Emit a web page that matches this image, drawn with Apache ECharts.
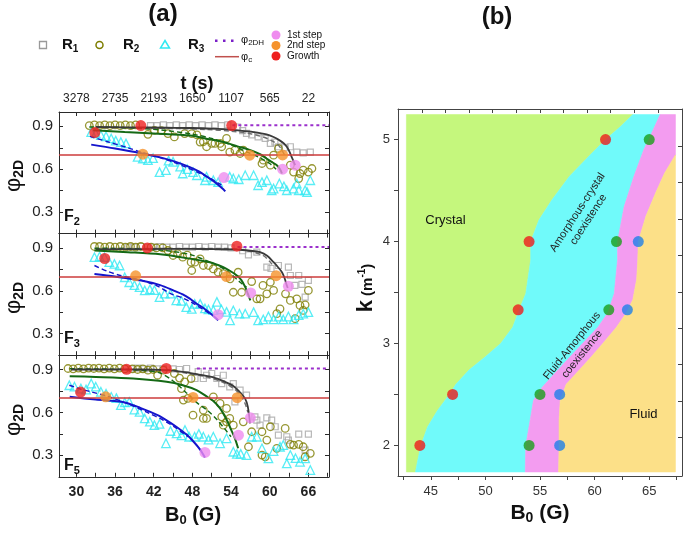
<!DOCTYPE html>
<html><head><meta charset="utf-8">
<script src="https://cdn.jsdelivr.net/npm/echarts@6/dist/echarts.min.js"></script>
<style>html,body{margin:0;padding:0;background:#fff}#c{width:685px;height:533px}</style>
</head><body><div id="c"></div>
<script>
// ================= DATA =================
// Panel (a) axes
const bRangeA = [27.3, 69.2];
const bTicksA = [30,33,36,39,42,45,48,51,54,57,60,63,66,69];
const bLabelsA = [30,36,42,48,54,60,66];
const tLabels = ['3278','2735','2193','1650','1107','565','22'];
const phiRange = [0.15, 1.0];
const phiTicks = [0.15,0.3,0.45,0.6,0.75,0.9];
const phiLabels = [0.3,0.6,0.9];
const phiC = 0.7;
const phi2DH = 0.907;

// ---- F2 ----
const F2_R1 = [[41.5,0.905],[42.5,0.905],[43.5,0.91],[44.5,0.905],[45.5,0.91],[46.5,0.905],[47.5,0.91],[48.5,0.905],[49.5,0.91],[50.5,0.905],[51.5,0.91],[52.5,0.905],[53.5,0.91],[55,0.895],[55.8,0.87],[56.4,0.85],[57.2,0.84],[58.2,0.826],[59.3,0.815],[60.1,0.78],[60.8,0.79],[61.35,0.757],[62.4,0.75],[63.2,0.757],[64.2,0.72],[65.2,0.714],[66.3,0.72]];
const F2_R2 = [[32,0.905],[32.8,0.91],[33.6,0.905],[34.4,0.91],[35.2,0.905],[36,0.91],[36.8,0.905],[37.6,0.91],[38.4,0.905],[39.2,0.91],[41.1,0.844],[42.1,0.872],[43.2,0.87],[44.2,0.849],[45.2,0.826],[46.8,0.849],[47.9,0.849],[48.7,0.84],[49.2,0.79],[49.7,0.792],[50.2,0.757],[51.0,0.78],[51.5,0.78],[52.3,0.78],[52.55,0.757],[53.3,0.815],[53.8,0.72],[54.6,0.733],[55.4,0.71],[55.9,0.733],[58.8,0.64],[59.0,0.663],[60.1,0.628],[60.6,0.698],[61.35,0.745],[63.2,0.628],[63.7,0.58],[64.5,0.535],[64.7,0.57],[65.2,0.593],[66.0,0.58],[66.55,0.605]];
const F2_R3 = [[32.3,0.86],[33.0,0.85],[33.8,0.838],[34.6,0.83],[35.4,0.815],[36.1,0.80],[36.9,0.79],[37.7,0.78],[39.5,0.686],[40.3,0.675],[41.1,0.663],[41.9,0.677],[42.9,0.58],[43.9,0.593],[44.3,0.66],[45.0,0.652],[46.1,0.618],[46.5,0.57],[47.2,0.6],[48.1,0.58],[48.7,0.558],[49.95,0.523],[50.2,0.547],[51.25,0.523],[52.0,0.51],[53.8,0.547],[54.35,0.535],[55.2,0.53],[56.2,0.558],[57.5,0.558],[58.2,0.488],[58.8,0.51],[59.55,0.523],[60.3,0.453],[60.6,0.465],[61.5,0.50],[62.2,0.48],[62.65,0.453],[63.7,0.465],[64.2,0.50],[64.5,0.453],[65.5,0.453],[65.8,0.44],[66.3,0.523]];
const F2_fitR1 = [[33,0.895],[38,0.893],[44,0.89],[48,0.888],[52,0.882],[55.4,0.87],[57.5,0.86],[59.5,0.844],[60.6,0.825],[61.6,0.80],[62.2,0.78],[62.65,0.757],[63.1,0.72],[63.4,0.686],[63.7,0.655],[63.95,0.628]];
const F2_fitR1d = [[33,0.89],[40,0.888],[46,0.884],[50,0.878],[54,0.866],[57,0.848],[59,0.825],[60.5,0.795],[61.5,0.76],[62.3,0.70]];
const F2_fitR2 = [[32.6,0.872],[37.5,0.86],[42,0.85],[47.7,0.836],[50,0.815],[52.8,0.79],[55,0.76],[57,0.733],[58.5,0.705],[59.5,0.675],[60.5,0.645],[61.1,0.628],[61.6,0.60],[61.9,0.57]];
const F2_fitR2d = [[32,0.895],[36,0.893],[40,0.885],[44,0.87],[48,0.845],[51,0.815],[54,0.77],[56.5,0.72],[58.5,0.68],[60,0.64],[61,0.6]];
const F2_fitR3 = [[32.3,0.772],[36,0.745],[40,0.712],[43,0.683],[45.2,0.655],[47.6,0.615],[49,0.585],[50.2,0.55],[51.5,0.51],[52.8,0.46],[53.1,0.445]];
const F2_fitR3d = [[32.1,0.83],[35,0.79],[38,0.75],[40,0.72],[42,0.695],[45,0.65],[47,0.615],[49,0.575],[51,0.53],[52.5,0.49]];
const F2_growth = [[32.85,0.856],[40.0,0.905],[54.1,0.905]];
const F2_step2 = [[40.3,0.705],[56.9,0.698],[62.0,0.70]];
const F2_step1 = [[52.9,0.542],[62.0,0.6],[63.95,0.628]];
const F2_h2DHstart = 54.2;

// ---- F3 ----
const F3_R1 = [[38,0.905],[39,0.905],[40,0.91],[41,0.905],[42,0.905],[43,0.91],[44,0.905],[45,0.905],[46,0.91],[47,0.905],[48,0.905],[49,0.91],[50,0.905],[51,0.91],[52,0.905],[53,0.905],[54,0.9],[55.8,0.88],[56.7,0.851],[58.0,0.87],[59.55,0.765],[60.2,0.756],[61.35,0.777],[62.9,0.765],[63.2,0.707],[63.9,0.638],[64.5,0.707],[65.0,0.645],[65.5,0.556],[66.0,0.673]];
const F3_R2 = [[32.8,0.91],[33.6,0.91],[34.4,0.905],[35.2,0.91],[36,0.905],[36.8,0.91],[37.6,0.905],[38.4,0.91],[39.2,0.905],[40,0.91],[41.6,0.905],[42.4,0.9],[43.4,0.9],[44.2,0.882],[45.0,0.847],[45.7,0.86],[46.5,0.835],[47.2,0.85],[47.8,0.80],[47.9,0.742],[48.4,0.80],[49.2,0.823],[49.7,0.777],[50.5,0.777],[51.25,0.753],[52.0,0.73],[52.8,0.72],[53.85,0.684],[54.35,0.59],[55.1,0.73],[55.65,0.59],[57.2,0.665],[58.0,0.544],[58.5,0.544],[58.95,0.638],[59.55,0.579],[60.1,0.66],[60.6,0.603],[61.1,0.44],[61.6,0.474],[62.45,0.579],[63.2,0.533],[63.95,0.405],[64.2,0.544],[64.7,0.498],[65.2,0.463],[65.5,0.502],[66.0,0.603]];
const F3_R3 = [[32.8,0.835],[33.6,0.84],[34.35,0.835],[35.1,0.80],[35.9,0.788],[36.7,0.777],[37.5,0.695],[38.2,0.66],[39.0,0.64],[39.8,0.626],[40.6,0.603],[41.4,0.61],[42.1,0.605],[42.9,0.556],[43.7,0.58],[44.6,0.58],[45.5,0.533],[46.3,0.53],[47.05,0.486],[47.9,0.474],[48.35,0.509],[49.2,0.509],[49.95,0.477],[50.5,0.47],[51.25,0.465],[51.8,0.523],[52.5,0.47],[53.3,0.453],[53.85,0.393],[54.35,0.463],[55.3,0.44],[56.2,0.44],[57.5,0.451],[58.2,0.393],[59.0,0.40],[59.8,0.42],[60.6,0.40],[61.4,0.42],[62.1,0.40],[62.9,0.42],[63.7,0.40],[64.5,0.43],[65.2,0.44],[66.0,0.451]];
const F3_fitR1 = [[33,0.89],[40,0.892],[47.6,0.893],[52,0.891],[54.9,0.889],[57,0.88],[58.5,0.87],[59.6,0.845],[60.6,0.80],[61.3,0.765],[61.9,0.73],[62.3,0.69],[62.65,0.638],[62.8,0.62]];
const F3_fitR1d = [[33,0.895],[45,0.897],[52.8,0.897],[56,0.885],[58.95,0.847],[60.1,0.80],[60.6,0.77]];
const F3_fitR2 = [[32.8,0.882],[38,0.87],[43,0.855],[47.6,0.825],[50.7,0.80],[52.8,0.765],[54.0,0.735],[54.9,0.707],[55.6,0.675],[56.2,0.626],[56.6,0.58],[57.0,0.533]];
const F3_fitR2d = [[32.8,0.898],[38,0.895],[43,0.885],[47.5,0.855],[50.5,0.805],[53.3,0.742],[55.4,0.66],[56.4,0.626]];
const F3_fitR3 = [[32.8,0.718],[36,0.70],[40.05,0.672],[43,0.64],[45.2,0.60],[46.5,0.575],[47.6,0.545],[48.5,0.515],[49.7,0.48],[51,0.435],[52,0.395]];
const F3_fitR3d = [[32.8,0.777],[34.9,0.735],[37,0.705],[40,0.675],[42.5,0.635],[44.7,0.579],[46.5,0.55],[47.8,0.521],[49.5,0.475],[51,0.43]];
const F3_growth = [[34.4,0.826],[41.0,0.90],[54.9,0.912]];
const F3_step2 = [[39.2,0.705],[53.3,0.70],[61.0,0.706]];
const F3_step1 = [[52.0,0.433],[57.05,0.585],[62.9,0.632]];
const F3_h2DHstart = 55.0;

// ---- F5 ----
const F5_R1 = [[38.5,0.905],[39.5,0.91],[40.5,0.905],[41.5,0.91],[42.5,0.905],[43.5,0.905],[45,0.905],[46,0.9],[47.1,0.907],[48.4,0.837],[48.9,0.885],[49.7,0.837],[50.2,0.86],[51.0,0.872],[51.8,0.837],[52.55,0.802],[52.8,0.86],[53.8,0.779],[54.35,0.802],[54.6,0.674],[55.4,0.756],[56.4,0.721],[57.7,0.569],[58.0,0.546],[58.5,0.511],[59.55,0.562],[60.3,0.546],[60.85,0.50],[61.35,0.441],[62.65,0.43],[62.9,0.407],[64.5,0.448],[65.5,0.337],[66.0,0.448]];
const F5_R2 = [[28.7,0.907],[29.5,0.905],[30.3,0.91],[31.1,0.905],[31.9,0.91],[32.7,0.907],[33.5,0.91],[34.3,0.905],[35.1,0.91],[35.9,0.905],[36.7,0.91],[37.5,0.905],[38.7,0.905],[39.5,0.9],[40.3,0.905],[41.1,0.895],[41.9,0.9],[42.6,0.86],[43.5,0.895],[45.2,0.872],[46.0,0.84],[46.3,0.767],[46.6,0.686],[46.8,0.813],[47.3,0.698],[47.8,0.837],[48.1,0.581],[49.7,0.558],[49.7,0.616],[50.2,0.558],[51.25,0.709],[52.3,0.663],[52.55,0.569],[52.8,0.511],[53.3,0.628],[53.3,0.534],[53.8,0.558],[54.35,0.511],[55.9,0.534],[56.7,0.36],[57.2,0.465],[58.8,0.302],[58.8,0.465],[59.3,0.29],[59.55,0.407],[60.1,0.50],[61.1,0.349],[62.4,0.488],[63.2,0.377],[63.7,0.372],[64.5,0.377],[65.2,0.36],[65.5,0.29],[66.3,0.314]];
const F5_R3 = [[28.9,0.79],[29.7,0.78],[30.7,0.767],[31.5,0.76],[32.3,0.802],[33.0,0.78],[33.8,0.744],[34.6,0.73],[35.4,0.709],[36.2,0.70],[36.9,0.651],[37.5,0.67],[38.2,0.674],[39.0,0.62],[39.8,0.604],[40.6,0.558],[41.4,0.535],[42.1,0.511],[42.9,0.52],[43.9,0.384],[44.6,0.47],[45.55,0.453],[46.3,0.44],[46.85,0.477],[47.5,0.43],[48.35,0.43],[49.0,0.45],[49.7,0.43],[50.5,0.41],[51.25,0.43],[52.3,0.384],[53.3,0.419],[54.35,0.325],[54.9,0.31],[55.5,0.31],[56.4,0.302],[57.2,0.43],[58.0,0.43],[58.8,0.349],[59.8,0.279],[60.6,0.33],[61.6,0.36],[62.1,0.372],[62.65,0.244],[63.2,0.302],[64.0,0.28],[64.7,0.255],[65.5,0.279],[66.3,0.197]];
const F5_fitR1 = [[29.2,0.90],[35,0.90],[40,0.90],[44,0.895],[47.1,0.88],[49,0.865],[51.25,0.845],[53,0.815],[54.35,0.785],[55.3,0.745],[56.2,0.695],[56.6,0.64],[56.95,0.523]];
const F5_fitR1d = [[44,0.9],[47,0.875],[50,0.85],[52.5,0.815],[54.3,0.77],[55.3,0.73],[56.2,0.66],[56.6,0.60]];
const F5_fitR2 = [[28.96,0.853],[33,0.848],[38.8,0.837],[44,0.814],[46.5,0.79],[48.65,0.756],[50.2,0.712],[51.25,0.68],[52.3,0.628],[53.3,0.55],[54.0,0.48],[54.6,0.419],[55.1,0.349]];
const F5_fitR2d = [[28.96,0.905],[35,0.903],[40,0.895],[43,0.875],[45,0.82],[47,0.74],[48.65,0.67],[50.45,0.61],[51.8,0.55],[53.2,0.475],[54,0.43]];
const F5_fitR3 = [[28.96,0.709],[33,0.69],[37.5,0.67],[40,0.63],[42.6,0.581],[44,0.545],[45.5,0.50],[47.1,0.445],[48.3,0.39],[49.2,0.34],[49.95,0.285]];
const F5_fitR3d = [[28.9,0.79],[30.5,0.765],[32.3,0.744],[35,0.71],[38,0.66],[41,0.6],[43.5,0.545],[45.5,0.49],[47.3,0.43]];
const F5_growth = [[30.65,0.742],[37.8,0.901],[43.95,0.907]];
const F5_step2 = [[34.55,0.709],[48.1,0.705],[54.95,0.703]];
const F5_step1 = [[49.95,0.32],[55.15,0.441],[57.0,0.562]];
const F5_h2DHstart = 48.7;

// Panel (b)
const bRangeB = [42, 68];
const kRangeB = [1.7, 5.3];
const bTicksB = [42.5,45,47.5,50,52.5,55,57.5,60,62.5,65,67.5];
const bLabelsB = [45,50,55,60,65];
const bTopTicksB = [44.18,46.34,48.5,50.66,52.82,54.98,57.14,59.3,61.46,63.62,65.78];
const kTicksB = [2,2.5,3,3.5,4,4.5,5];
const kLabelsB = [2,3,4,5];
const kRightTicksB = [4.934,4.577,4.22,3.863,3.506,3.149,2.792,2.435,2.078];
const regionEdges = {left:42.77, right:67.4, bottom:1.74, top:5.245};
const boundaryCrystal = [[43.6,1.74],[43.8,1.85],[44.1,2.0],[44.7,2.18],[45.6,2.34],[46.7,2.5],[47.3,2.6],[48.5,2.74],[50.0,2.87],[51.4,3.0],[52.5,3.16],[53.1,3.33],[53.7,3.49],[54.15,3.82],[54.15,4.0],[54.9,4.21],[56.1,4.41],[57.7,4.64],[59.5,4.84],[61.0,5.0],[62.4,5.13],[63.5,5.245]];
const boundaryAmorph = [[53.65,1.74],[53.7,2.0],[54.1,2.25],[54.4,2.44],[55.2,2.57],[56.3,2.7],[57.5,2.84],[58.9,3.0],[60.3,3.16],[61.2,3.3],[61.8,3.49],[62.1,3.82],[62.1,4.0],[62.7,4.34],[63.6,4.64],[64.5,4.9],[65.25,5.07],[66.0,5.245]];
const boundaryFluid = [[56.7,1.74],[56.75,2.0],[56.75,2.25],[56.85,2.44],[57.4,2.6],[58.6,2.74],[59.7,2.87],[60.75,3.0],[62.0,3.16],[62.9,3.3],[63.5,3.43],[63.85,3.63],[63.95,3.82],[64.0,4.0],[64.7,4.25],[65.6,4.48],[66.4,4.67],[67.4,4.85]];
const dotsRed = [[61,5],[54,4],[53,3.33],[47,2.5],[44,2]];
const dotsGreen = [[65,5],[62,4],[61.3,3.33],[55,2.5],[54,2]];
const dotsBlue = [[64,4],[63,3.33],[56.8,2.5],[56.8,2]];

// ================= STYLE / BUILD =================
const FF = '"Liberation Sans", Arial, sans-serif';
const C = {R1:'#a6a6a6', R2:'#7d7d00', R3:'#2fe9f2', fit1:'#3a3a3a', fit1d:'#707070', fit2:'#156915', fit3:'#1414cc',
  phiC:'#cc3b3b', h2DH:'#9b30cc', grow:'#ee2020', step2:'#f5922c', step1:'#ef8cef', axis:'#2a2a2a'};
const regionColors = ['#c5f77d','#70fafa','#f39cf0','#fce088'];

const panelsA = [
 {R1:F2_R1,R2:F2_R2,R3:F2_R3,f1:F2_fitR1,f1d:F2_fitR1d,f2:F2_fitR2,f2d:F2_fitR2d,f3:F2_fitR3,f3d:F2_fitR3d,g:F2_growth,s2:F2_step2,s1:F2_step1,h:F2_h2DHstart},
 {R1:F3_R1,R2:F3_R2,R3:F3_R3,f1:F3_fitR1,f1d:F3_fitR1d,f2:F3_fitR2,f2d:F3_fitR2d,f3:F3_fitR3,f3d:F3_fitR3d,g:F3_growth,s2:F3_step2,s1:F3_step1,h:F3_h2DHstart},
 {R1:F5_R1,R2:F5_R2,R3:F5_R3,f1:F5_fitR1,f1d:F5_fitR1d,f2:F5_fitR2,f2d:F5_fitR2d,f3:F5_fitR3,f3d:F5_fitR3d,g:F5_growth,s2:F5_step2,s1:F5_step1,h:F5_h2DHstart}
];
const gridTops = [112, 233.6, 355.2];
const gridH = 121.6;

const grid = gridTops.map(t => ({left:59, width:270, top:t, height:gridH, outerBoundsMode:'none'}));
grid.push({left:398, width:284, top:109, height:367, outerBoundsMode:'none'});

const xAxis = [], yAxis = [], series = [];
const lineAx = {show:true, onZero:false, lineStyle:{color:C.axis, width:1}};
panelsA.forEach((p, i) => {
  xAxis.push({type:'value', gridIndex:i, position:'bottom', min:bRangeA[0], max:bRangeA[1],
    axisLine:lineAx, splitLine:{show:false},
    axisTick:{show:true, inside:true, length:4, customValues:bTicksA, lineStyle:{color:C.axis}},
    axisLabel:{show:i===2, customValues:bLabelsA, fontFamily:FF, fontWeight:'bold', fontSize:14, color:'#222', margin:8}});
  xAxis.push({type:'value', gridIndex:i, position:'top', min:bRangeA[0], max:bRangeA[1],
    axisLine:lineAx, splitLine:{show:false},
    axisTick:{show:true, inside:true, length:4, customValues:bTicksA, lineStyle:{color:C.axis}},
    axisLabel:{show:i===0, customValues:bLabelsA, formatter:v=>tLabels[bLabelsA.indexOf(v)], fontFamily:FF, fontSize:12, color:'#222', margin:7}});
  yAxis.push({type:'value', gridIndex:i, position:'left', min:phiRange[0], max:phiRange[1],
    axisLine:lineAx, splitLine:{show:false},
    axisTick:{show:true, inside:true, length:4, customValues:phiTicks, lineStyle:{color:C.axis}},
    axisLabel:{show:true, customValues:phiLabels, formatter:v=>v.toFixed(1), fontFamily:FF, fontSize:15, color:'#222', margin:6}});
  yAxis.push({type:'value', gridIndex:i, position:'right', min:phiRange[0], max:phiRange[1],
    axisLine:lineAx, splitLine:{show:false},
    axisTick:{show:true, inside:true, length:4, customValues:phiTicks, lineStyle:{color:C.axis}},
    axisLabel:{show:false}});
  const ax = {xAxisIndex:2*i, yAxisIndex:2*i, silent:true, animation:false};
  const sc = (data, sym, size, col, bw) => Object.assign({type:'scatter', data, symbol:sym, symbolSize:size, z:2,
    itemStyle:{color:'rgba(0,0,0,0)', borderColor:col, borderWidth:bw}}, ax);
  series.push(sc(p.R1,'rect',6,C.R1,1.2));
  series.push(sc(p.R2,'circle',7.5,C.R2,1.3));
  series.push(sc(p.R3,'triangle',8.5,C.R3,1.3));
  const ln = (data, col, w, type) => Object.assign({type:'line', data, showSymbol:false, smooth:0.3, z:3,
    lineStyle:{color:col, width:w, type:type||'solid'}}, ax);
  series.push(ln(p.f1d, C.fit1d, 1.4, [5,3]));
  series.push(ln(p.f2d, C.fit2, 1.4, [5,3]));
  series.push(ln(p.f3d, C.fit3, 1.4, [5,3]));
  series.push(ln(p.f1, C.fit1, 1.8));
  series.push(ln(p.f2, C.fit2, 2));
  const l3 = ln(p.f3, C.fit3, 2);
  l3.markLine = {symbol:['none','none'], silent:true, animation:false, label:{show:false},
    lineStyle:{color:C.phiC, width:1.5, type:'solid'}, data:[{yAxis:phiC}]};
  series.push(l3);
  series.push(Object.assign({type:'line', data:[[p.h, phi2DH],[bRangeA[1], phi2DH]], showSymbol:false, z:3,
    lineStyle:{color:C.h2DH, width:2, type:[3,3]}}, ax));
  const dot = (data, col) => Object.assign({type:'scatter', data, symbol:'circle', symbolSize:11, z:5,
    itemStyle:{color:col}}, ax);
  series.push(dot(p.g, C.grow));
  series.push(dot(p.s2, C.step2));
  series.push(dot(p.s1, C.step1));
});

// panel b axes
const axB = '#444';
xAxis.push({type:'value', gridIndex:3, position:'bottom', min:bRangeB[0], max:bRangeB[1],
  axisLine:{show:true,onZero:false,lineStyle:{color:axB}}, splitLine:{show:false},
  axisTick:{show:true, inside:false, length:4, customValues:bTicksB, lineStyle:{color:axB}},
  axisLabel:{customValues:bLabelsB, fontFamily:FF, fontSize:13, color:'#333', margin:9}});
xAxis.push({type:'value', gridIndex:3, position:'top', min:bRangeB[0], max:bRangeB[1],
  axisLine:{show:true,onZero:false,lineStyle:{color:axB}}, splitLine:{show:false},
  axisTick:{show:true, inside:true, length:4, customValues:bTopTicksB, lineStyle:{color:axB}},
  axisLabel:{show:false}});
yAxis.push({type:'value', gridIndex:3, position:'left', min:kRangeB[0], max:kRangeB[1],
  axisLine:{show:true,onZero:false,lineStyle:{color:axB}}, splitLine:{show:false},
  axisTick:{show:true, inside:false, length:4, customValues:kTicksB, lineStyle:{color:axB}},
  axisLabel:{customValues:kLabelsB, fontFamily:FF, fontSize:13, color:'#333', margin:8}});
yAxis.push({type:'value', gridIndex:3, position:'right', min:kRangeB[0], max:kRangeB[1],
  axisLine:{show:true,onZero:false,lineStyle:{color:axB}}, splitLine:{show:false},
  axisTick:{show:true, inside:true, length:4, customValues:kRightTicksB, lineStyle:{color:axB}},
  axisLabel:{show:false}});

const E = regionEdges;
const regionPolys = [
  [[E.left,E.bottom]].concat(boundaryCrystal, [[E.left,E.top]]),
  boundaryCrystal.concat(boundaryAmorph.slice().reverse()),
  boundaryAmorph.concat([[E.right,E.top]], boundaryFluid.slice().reverse()),
  boundaryFluid.concat([[E.right,E.bottom]])
];
series.push({type:'custom', xAxisIndex:6, yAxisIndex:6, silent:true, animation:false, z:1,
  data: regionPolys.map(() => [55, 3]),
  renderItem: (params, api) => ({type:'polygon',
    shape:{points: regionPolys[params.dataIndex].map(pt => api.coord(pt))},
    style:{fill: regionColors[params.dataIndex], stroke: regionColors[params.dataIndex], lineWidth:0.6}})
});
[[dotsRed,'#ee1c1c'],[dotsGreen,'#1a9e1a'],[dotsBlue,'#1f80e8']].forEach(([d,c]) => {
  series.push({type:'scatter', xAxisIndex:6, yAxisIndex:6, data:d, symbolSize:11, z:5, silent:true, animation:false, itemStyle:{color:c}});
});

// ---------- text helpers ----------
const cv = document.createElement('canvas').getContext('2d');
function tw(t, f){ cv.font = f; return cv.measureText(t).width; }
function fnt(s){ return s + ' ' + FF; }
function label(x, y, parts, align, rot){
  const ws = parts.map(p => tw(p[0], fnt(p[1])));
  const tot = ws.reduce((a,b)=>a+b, 0);
  let cx = align==='center' ? -tot/2 : (align==='right' ? -tot : 0);
  const children = parts.map((p, i) => {
    const el = {type:'text', x:cx, y:p[2]||0, z:100, silent:true,
      style:{text:p[0], font:fnt(p[1]), fill:p[3]||'#111', align:'left', textAlign:'left', verticalAlign:'middle', textVerticalAlign:'middle'}};
    cx += ws[i]; return el;
  });
  return {type:'group', x, y, rotation: rot||0, z:100, silent:true, children};
}
function lines2(x, y, l1, l2, size, rot){
  const mk = (t, dy) => ({type:'text', x:0, y:dy, z:100, silent:true,
    style:{text:t, font:fnt(size), fill:'#222', align:'center', textAlign:'center', verticalAlign:'middle', textVerticalAlign:'middle'}});
  return {type:'group', x, y, rotation:rot, z:100, silent:true, children:[mk(l1,-6.5), mk(l2,6.5)]};
}

const graphic = [
  label(163, 14, [['(a)','bold 24px']], 'center'),
  label(497, 17, [['(b)','bold 24px']], 'center'),
  // legend (a)
  {type:'rect', z:100, shape:{x:39.5,y:41.5,width:7,height:7}, style:{fill:'none', stroke:'#999', lineWidth:1.3}},
  label(62, 45, [['R','bold 15px'],['1','bold 10px',4]], 'left'),
  {type:'circle', z:100, shape:{cx:99.5, cy:45, r:3.5}, style:{fill:'none', stroke:C.R2, lineWidth:1.5}},
  label(123, 45, [['R','bold 15px'],['2','bold 10px',4]], 'left'),
  {type:'polygon', z:100, shape:{points:[[165,40.5],[169.5,48],[160.5,48]]}, style:{fill:'none', stroke:C.R3, lineWidth:1.5}},
  label(188, 45, [['R','bold 15px'],['3','bold 10px',4]], 'left'),
  {type:'line', z:100, shape:{x1:215,y1:40.7,x2:239,y2:40.7}, style:{stroke:'#7a1fc8', lineWidth:2.5, lineDash:[2.5,5.5]}},
  label(241, 40, [['φ','11px'],['2DH','8px',3]], 'left'),
  {type:'line', z:100, shape:{x1:215,y1:56.7,x2:239,y2:56.7}, style:{stroke:'#c0504d', lineWidth:1.5}},
  label(241, 57, [['φ','11px'],['c','8px',3]], 'left'),
  {type:'circle', z:100, shape:{cx:276, cy:35, r:4.5}, style:{fill:C.step1}},
  {type:'circle', z:100, shape:{cx:276, cy:45.5, r:4.5}, style:{fill:C.step2}},
  {type:'circle', z:100, shape:{cx:276, cy:56, r:4.5}, style:{fill:C.grow}},
  label(287, 35, [['1st step','10px']], 'left'),
  label(287, 45.5, [['2nd step','10px']], 'left'),
  label(287, 56, [['Growth','10px']], 'left'),
  label(197, 84, [['t (s)','bold 18px']], 'center'),
  // y names
  label(14, 176, [['φ','22px'],['2D','bold 14px',5]], 'center', Math.PI/2),
  label(14, 298, [['φ','22px'],['2D','bold 14px',5]], 'center', Math.PI/2),
  label(14, 420, [['φ','22px'],['2D','bold 14px',5]], 'center', Math.PI/2),
  // F labels
  label(64, 217, [['F','bold 16px'],['2','bold 11px',5]], 'left'),
  label(64, 339, [['F','bold 16px'],['3','bold 11px',5]], 'left'),
  label(64, 466, [['F','bold 16px'],['5','bold 11px',5]], 'left'),
  label(193, 515, [['B','bold 20px'],['0','bold 13px',5],[' (G)','bold 20px']], 'center'),
  // panel b
  label(540, 513, [['B','bold 21px'],['0','bold 14px',5],[' (G)','bold 21px']], 'center'),
  label(366, 288, [['k','bold 22px'],[' (m','bold 15px',2],['-1','bold 10px',-4],[')','bold 15px',2]], 'center', Math.PI/2),
  label(445.5, 220, [['Crystal','13px']], 'center'),
  label(643.5, 414, [['Fluid','13px']], 'center'),
  lines2(583, 216, 'Amorphous-crystal', 'coexistence', '11px', 57*Math.PI/180),
  lines2(577, 350, 'Fluid-Amorphous', 'coexistence', '11px', 51*Math.PI/180)
];

const chart = echarts.init(document.getElementById('c'), null, {renderer:'canvas'});
chart.setOption({animation:false, backgroundColor:'#fff', grid, xAxis, yAxis, series, graphic});
</script></body></html>
